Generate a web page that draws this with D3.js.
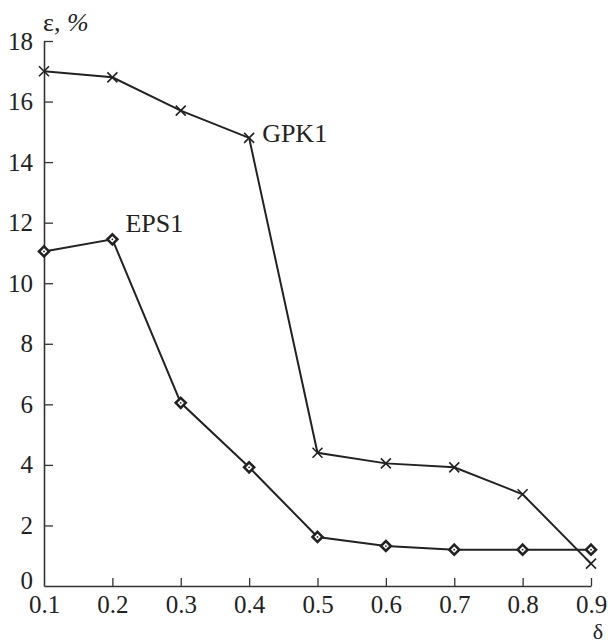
<!DOCTYPE html>
<html>
<head>
<meta charset="utf-8">
<script src="https://cdn.jsdelivr.net/npm/d3@7"></script>
<style>
  body { margin: 0; background: #fff; }
  text { font-family: "Liberation Serif", "DejaVu Serif", serif; fill: #222; }
</style>
</head>
<body>
<script>
// data
var deltas = [0.1, 0.2, 0.3, 0.4, 0.5, 0.6, 0.7, 0.8, 0.9];
var gpk1 = [17.0, 16.8, 15.7, 14.8, 4.4, 4.05, 3.92, 3.03, 0.74];
var eps1 = [11.05, 11.45, 6.05, 3.92, 1.62, 1.32, 1.2, 1.2, 1.2];
var xTicks = [0.1, 0.2, 0.3, 0.4, 0.5, 0.6, 0.7, 0.8, 0.9];
var yTicks = [0, 2, 4, 6, 8, 10, 12, 14, 16, 18];

var W = 608, H = 644;
var margin = {left: 44, right: 17, top: 41, bottom: 58};

var svg = d3.select("body").append("svg")
    .attr("width", W)
    .attr("height", H);

var x = d3.scaleLinear().domain([0.1, 0.9]).range([margin.left, W - margin.right]);
var y = d3.scaleLinear().domain([0, 18]).range([H - margin.bottom, margin.top]);

// axes, ticks pointing inward
var xAxis = svg.append("g")
    .attr("transform", "translate(0," + y(0) + ")")
    .call(d3.axisBottom(x).tickValues(xTicks).tickSize(-8).tickSizeOuter(0).tickPadding(9)
      .tickFormat(d3.format(".1f")));
var yAxis = svg.append("g")
    .attr("transform", "translate(" + x(0.1) + ",0)")
    .call(d3.axisLeft(y).tickValues(yTicks).tickSize(-9).tickSizeOuter(0).tickPadding(11));

[xAxis, yAxis].forEach(function(g) {
  g.select(".domain").attr("stroke", "#333").attr("stroke-width", 1.6);
  g.selectAll(".tick line").attr("stroke", "#333").attr("stroke-width", 1.3);
  g.selectAll(".tick text").style("font-size", "25px").attr("fill", "#222");
});
xAxis.selectAll(".tick line").filter(function(d) { return d === 0.1; }).remove();
yAxis.selectAll(".tick line").filter(function(d) { return d === 0; }).remove();
xAxis.selectAll(".tick text").attr("dy", "0.71em");
yAxis.selectAll(".tick text").filter(function(d) { return d === 0; }).attr("dy", "0.1em");

var line = d3.line()
    .x(function(d, i) { return x(deltas[i]); })
    .y(function(d) { return y(d); });

svg.append("path").datum(gpk1)
    .attr("d", line).attr("fill", "none")
    .attr("stroke", "#222").attr("stroke-width", 2);
svg.append("path").datum(eps1)
    .attr("d", line).attr("fill", "none")
    .attr("stroke", "#222").attr("stroke-width", 2);

// cross markers
svg.selectAll(".xm").data(gpk1).enter().append("path")
    .attr("class", "xm")
    .attr("d", "M-5,-5L5,5M-5,5L5,-5")
    .attr("transform", function(d, i) { return "translate(" + x(deltas[i]) + "," + y(d) + ")"; })
    .attr("stroke", "#222").attr("stroke-width", 1.6).attr("fill", "none");

// diamond markers
svg.selectAll(".dm").data(eps1).enter().append("path")
    .attr("class", "dm")
    .attr("d", "M0,-5L5,0L0,5L-5,0Z")
    .attr("transform", function(d, i) { return "translate(" + x(deltas[i]) + "," + y(d) + ")"; })
    .attr("stroke", "#222").attr("stroke-width", 2.6).attr("fill", "#fff");
svg.selectAll(".dd").data(eps1).enter().append("circle")
    .attr("class", "dd")
    .attr("cx", function(d, i) { return x(deltas[i]); })
    .attr("cy", function(d) { return y(d); })
    .attr("r", 0.9).attr("fill", "#222");

// series labels
svg.append("text")
    .attr("x", x(0.4) + 13).attr("y", y(14.8) + 4)
    .style("font-size", "26px").text("GPK1");
svg.append("text")
    .attr("x", x(0.2) + 13).attr("y", y(11.45) - 7)
    .style("font-size", "26px").text("EPS1");

// axis titles
var yt = svg.append("text")
    .attr("x", 43).attr("y", 31)
    .style("font-size", "26px");
yt.append("tspan").text("ε, ");
yt.append("tspan").style("font-style", "italic").text("%");

svg.append("text")
    .attr("x", 598).attr("y", 639)
    .attr("text-anchor", "middle")
    .style("font-size", "22px").text("δ");
</script>
</body>
</html>
